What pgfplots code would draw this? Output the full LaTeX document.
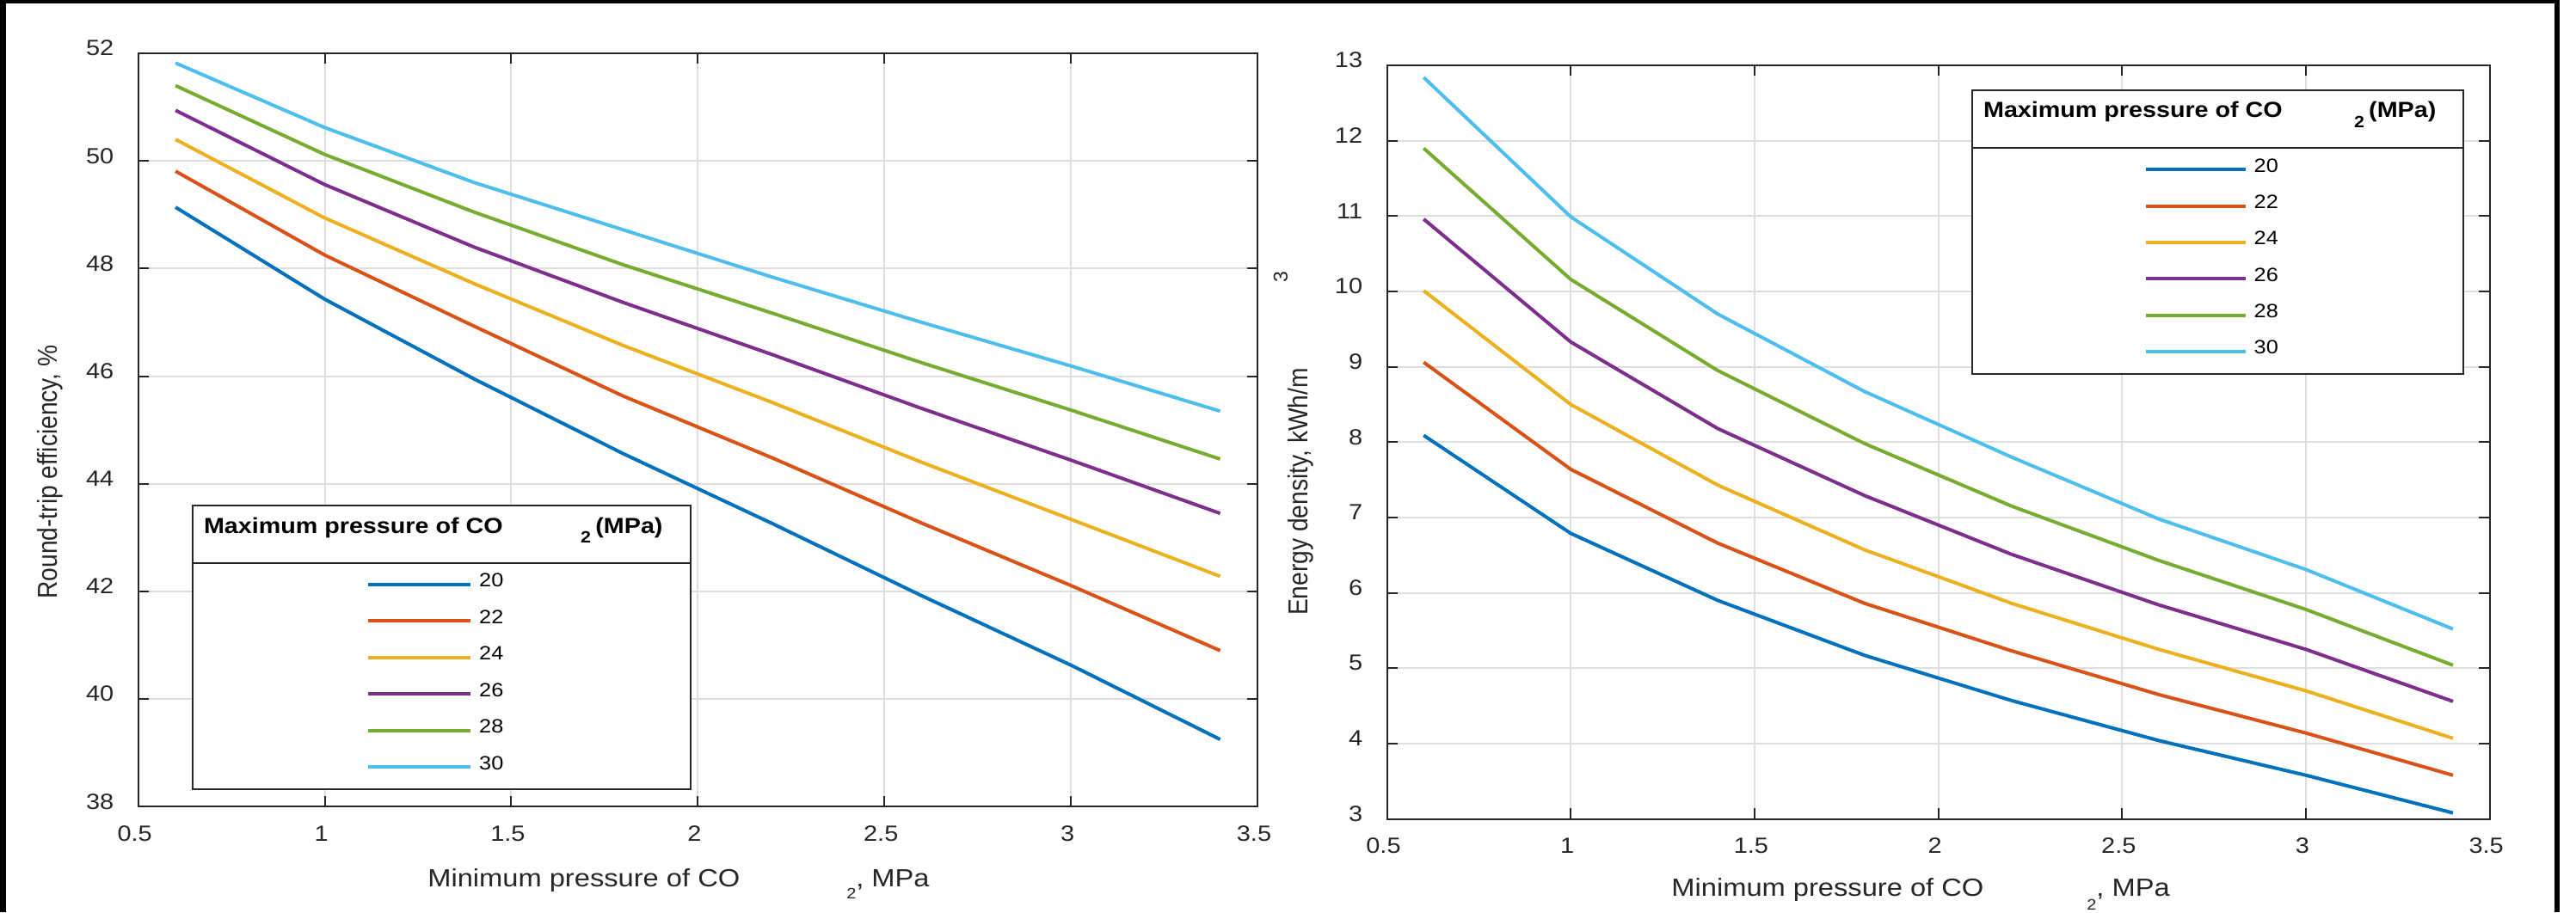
\documentclass[border=0pt]{standalone}
\usepackage{fontspec}
\setmainfont{Liberation Sans}
\newfontfamily\hfont[FakeStretch=1.13]{Liberation Sans}
\usepackage{graphicx}
\usepackage{pgfplots}
\usepackage{pgfplotstable}
\pgfplotsset{compat=1.18}

\definecolor{mblue}{RGB}{0,114,189}
\definecolor{mred}{RGB}{217,83,25}
\definecolor{myellow}{RGB}{237,177,32}
\definecolor{mpurple}{RGB}{126,47,142}
\definecolor{mgreen}{RGB}{119,172,48}
\definecolor{mcyan}{RGB}{77,190,238}
\definecolor{axcol}{RGB}{38,38,38}
\definecolor{gridcol}{RGB}{222,222,222}

\pgfplotstableread{
x   s20   s22   s24   s26   s28   s30
0.6 49.14 49.81 50.40 50.94 51.40 51.82
1.0 47.43 48.25 48.94 49.56 50.12 50.62
1.4 45.95 46.93 47.72 48.40 49.05 49.60
1.8 44.56 45.63 46.57 47.37 48.07 48.72
2.2 43.26 44.48 45.51 46.40 47.17 47.84
2.6 41.92 43.27 44.40 45.40 46.25 47.00
3.0 40.63 42.11 43.34 44.44 45.37 46.19
3.4 39.25 40.90 42.28 43.45 44.46 45.35
}\effdata

\pgfplotstableread{
x   s20  s22  s24   s26   s28   s30
0.6 8.09 9.06 10.01 10.96 11.90 12.84
1.0 6.79 7.64 8.50  9.33  10.16 10.99
1.4 5.90 6.66 7.43  8.18  8.95  9.70
1.8 5.17 5.86 6.57  7.29  7.98  8.67
2.2 4.57 5.23 5.86  6.51  7.15  7.80
2.6 4.04 4.65 5.25  5.84  6.43  6.98
3.0 3.58 4.14 4.70  5.25  5.78  6.31
3.4 3.08 3.58 4.07  4.56  5.04  5.52
}\endata

\pgfplotsset{
  mystyle/.style={
    scale only axis, anchor=south west,
    xmin=0.5, xmax=3.5, xtick={0.5,1,1.5,2,2.5,3,3.5},
    tick align=inside, xtick pos=both, ytick pos=both,
    xticklabel pos=lower, yticklabel pos=left,
    major tick length=6.2pt,
    axis line style={draw=axcol, line width=1pt},
    tick style={draw=axcol, line width=1pt},
    grid=major, major grid style={draw=gridcol, line width=1pt},
    tick label style={font=\hfont\fontsize{12.8}{14}\selectfont, text=axcol},
    /pgf/number format/assume math mode=true,
    xticklabel style={anchor=north, inner sep=0pt, yshift=-11pt, xshift=-2pt},
    yticklabel style={anchor=east, inner sep=0pt, xshift=-14pt, yshift=3pt},
    every axis plot/.append style={line width=2pt, line join=round},
    xlabel style={font=\hfont\fontsize{14.45}{16}\selectfont, text=axcol, inner sep=0pt, anchor=base west},
    ylabel style={font=\fontsize{14.1}{16}\selectfont, text=axcol, inner sep=0pt, anchor=base},
  }
}

\begin{document}
\begin{tikzpicture}
\useasboundingbox (0,0) rectangle (1497.5pt,-530.5pt);

% ---------------- left axis ----------------
\begin{axis}[mystyle,
  at={(80.35pt,-469.15pt)}, width=650.65pt, height=438.15pt,
  ymin=38, ymax=52, ytick={38,40,42,44,46,48,50,52},
  xlabel={Minimum pressure of CO\hspace*{62pt}\raisebox{-7pt}{\fontsize{8.8}{9}\selectfont 2}, MPa},
  xlabel style={at={(axis description cs:0.2584,-0.1066)}},
  ylabel={\scalebox{1}[1.13]{Round-trip efficiency, \%}},
  ylabel style={at={(axis description cs:-0.0722,0.4443)}},
]
\addplot[mblue]   table[x=x,y=s20]{\effdata};
\addplot[mred]    table[x=x,y=s22]{\effdata};
\addplot[myellow] table[x=x,y=s24]{\effdata};
\addplot[mpurple] table[x=x,y=s26]{\effdata};
\addplot[mgreen]  table[x=x,y=s28]{\effdata};
\addplot[mcyan]   table[x=x,y=s30]{\effdata};
\end{axis}

% ---------------- right axis ----------------
\begin{axis}[mystyle,
  at={(806.25pt,-476.3pt)}, width=641.1pt, height=438.3pt,
  ymin=3, ymax=13, ytick={3,4,5,6,7,8,9,10,11,12,13},
  xlabel={Minimum pressure of CO\hspace*{60pt}\raisebox{-8pt}{\fontsize{8.8}{9}\selectfont 2}, MPa},
  xlabel style={at={(axis description cs:0.2578,-0.1028)}},
  ylabel={\scalebox{1}[1.13]{Energy density, kWh/m}},
  ylabel style={at={(axis description cs:-0.0721,0.4342)}},
]
\addplot[mblue]   table[x=x,y=s20]{\endata};
\addplot[mred]    table[x=x,y=s22]{\endata};
\addplot[myellow] table[x=x,y=s24]{\endata};
\addplot[mpurple] table[x=x,y=s26]{\endata};
\addplot[mgreen]  table[x=x,y=s28]{\endata};
\addplot[mcyan]   table[x=x,y=s30]{\endata};
\end{axis}

\begin{scope}[x=0.5pt, y=-0.5pt]
  % superscript of m^3 on the right y label
  \node[rotate=90, inner sep=0pt, text=axcol, font=\fontsize{11.5}{12}\selectfont] at (1489,322) {3};

  % left legend
  \draw[draw=axcol, line width=1pt, fill=white] (223.9,588.3) rectangle (803,918);
  \draw[draw=axcol, line width=1pt] (223.9,654.7) -- (803,654.7);
  \node[anchor=base west, inner sep=0pt, font=\hfont\bfseries\fontsize{12.7}{14}\selectfont] at (236.6,620) {Maximum pressure of CO};
  \node[anchor=base west, inner sep=0pt, font=\hfont\bfseries\fontsize{9.5}{10}\selectfont] at (674.7,631.7) {2};
  \node[anchor=base west, inner sep=0pt, font=\hfont\bfseries\fontsize{12.7}{14}\selectfont] at (692,620) {(MPa)};
  \foreach \k/\c/\t in {0/mblue/20,1/mred/22,2/myellow/24,3/mpurple/26,4/mgreen/28,5/mcyan/30}{
    \draw[\c, line width=2pt] (428,{680+42.46*\k}) -- (547,{680+42.46*\k});
    \node[anchor=base west, inner sep=0pt, font=\hfont\fontsize{11.2}{12}\selectfont] at (556.8,{682.7+42.46*\k}) {\t};
  }

  % right legend
  \draw[draw=axcol, line width=1pt, fill=white] (2293.3,104.7) rectangle (2863.5,435);
  \draw[draw=axcol, line width=1pt] (2293.3,171.7) -- (2863.5,171.7);
  \node[anchor=base west, inner sep=0pt, font=\hfont\bfseries\fontsize{12.7}{14}\selectfont] at (2305.7,136.7) {Maximum pressure of CO};
  \node[anchor=base west, inner sep=0pt, font=\hfont\bfseries\fontsize{9.5}{10}\selectfont] at (2736.7,148.4) {2};
  \node[anchor=base west, inner sep=0pt, font=\hfont\bfseries\fontsize{12.7}{14}\selectfont] at (2753.8,136.7) {(MPa)};
  \foreach \k/\c/\t in {0/mblue/20,1/mred/22,2/myellow/24,3/mpurple/26,4/mgreen/28,5/mcyan/30}{
    \draw[\c, line width=2pt] (2494.5,{197.3+42.34*\k}) -- (2610.8,{197.3+42.34*\k});
    \node[anchor=base west, inner sep=0pt, font=\hfont\fontsize{11.2}{12}\selectfont] at (2620.3,{200+42.34*\k}) {\t};
  }

  % outer frame
  \fill[black] (0,0) rectangle (6.5,1061);
  \fill[black] (0,0) rectangle (2976,3.5);
  \fill[black] (2970,0) rectangle (2976,1061);
\end{scope}
\end{tikzpicture}
\end{document}
